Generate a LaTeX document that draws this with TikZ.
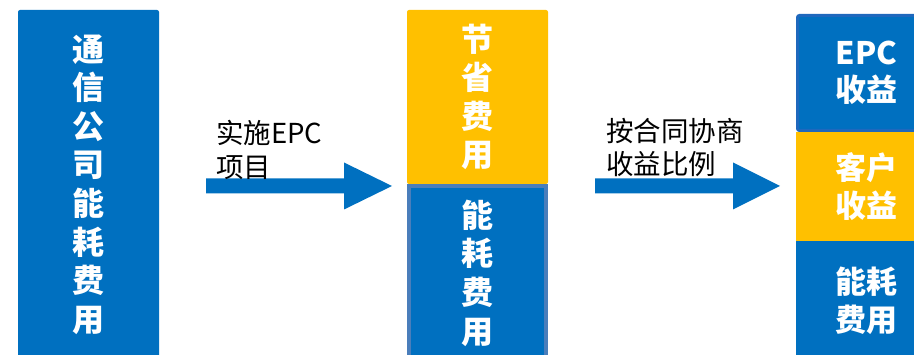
\documentclass[tikz,border=0pt]{standalone}
\usepackage{fontspec}
\newfontfamily\cjk{Noto Sans CJK SC}
\definecolor{eblue}{HTML}{0070C0}
\definecolor{eyellow}{HTML}{FFC000}
\definecolor{lborder}{HTML}{4A7EBB}
\definecolor{dborder}{HTML}{1F68BD}
\begin{document}
\begin{tikzpicture}[x=1pt,y=1pt,
  box/.style={inner sep=0pt, outer sep=0pt, text=white, align=center,
    font=\cjk\bfseries\fontsize{32}{38.6}\selectfont},
  rbox/.style={inner sep=0pt, outer sep=0pt, text=white, align=center,
    font=\cjk\bfseries\fontsize{31}{37.5}\selectfont},
  lbl/.style={inner sep=0pt, align=left, anchor=west,
    font=\cjk\fontsize{27.5}{33.5}\selectfont},
  barrow/.style={fill=eblue}]
\useasboundingbox (0,0) rectangle (914,355);
\clip (0,0) rectangle (914,355);
% left box
\node[box, fill=eblue, rounded corners=2pt, minimum width=141, minimum height=349]
  (left) at (88.5,170.5) {通\\信\\公\\司\\能\\耗\\费\\用};
% middle boxes
\node[box, fill=eyellow, rounded corners=2pt, minimum width=141, minimum height=174]
  (save) at (477.5,258) {节\\省\\费\\用};
\node[box, fill=eblue, draw=lborder, line width=4pt, minimum width=137, minimum height=174]
  (cost) at (477.5,82) {能\\耗\\费\\用};
% right boxes
\node[rbox, fill=eblue, draw=dborder, line width=3pt, rounded corners=2pt,
  minimum width=138, minimum height=115] (epc) at (866.5,282) {EPC\\收益};
\node[rbox, fill=eyellow, minimum width=141, minimum height=109]
  (cust) at (866.5,168.5) {客户\\收益};
\node[rbox, fill=eblue, minimum width=141, minimum height=120]
  (ecost) at (866.5,54) {能耗\\费用};
% arrows
\coordinate (a1s) at (206,169);
\coordinate (a1e) at (392,169);
\fill[barrow] ([yshift=7.5]a1s) -- ++(138,0) -- ++(0,16) -- (a1e) -- ++(-48,-23.5)
  -- ++(0,16) -- ([yshift=-7.5]a1s) -- cycle;
\coordinate (a2s) at (595,169);
\coordinate (a2e) at (780,169);
\fill[barrow] ([yshift=7.5]a2s) -- ++(138,0) -- ++(0,16) -- (a2e) -- ++(-47,-23.5)
  -- ++(0,16) -- ([yshift=-7.5]a2s) -- cycle;
% labels
\node[lbl] (l1) at (216,205) {实施EPC\\项目};
\node[lbl] (l2) at (606,207.5) {按合同协商\\收益比例};
\end{tikzpicture}
\end{document}
